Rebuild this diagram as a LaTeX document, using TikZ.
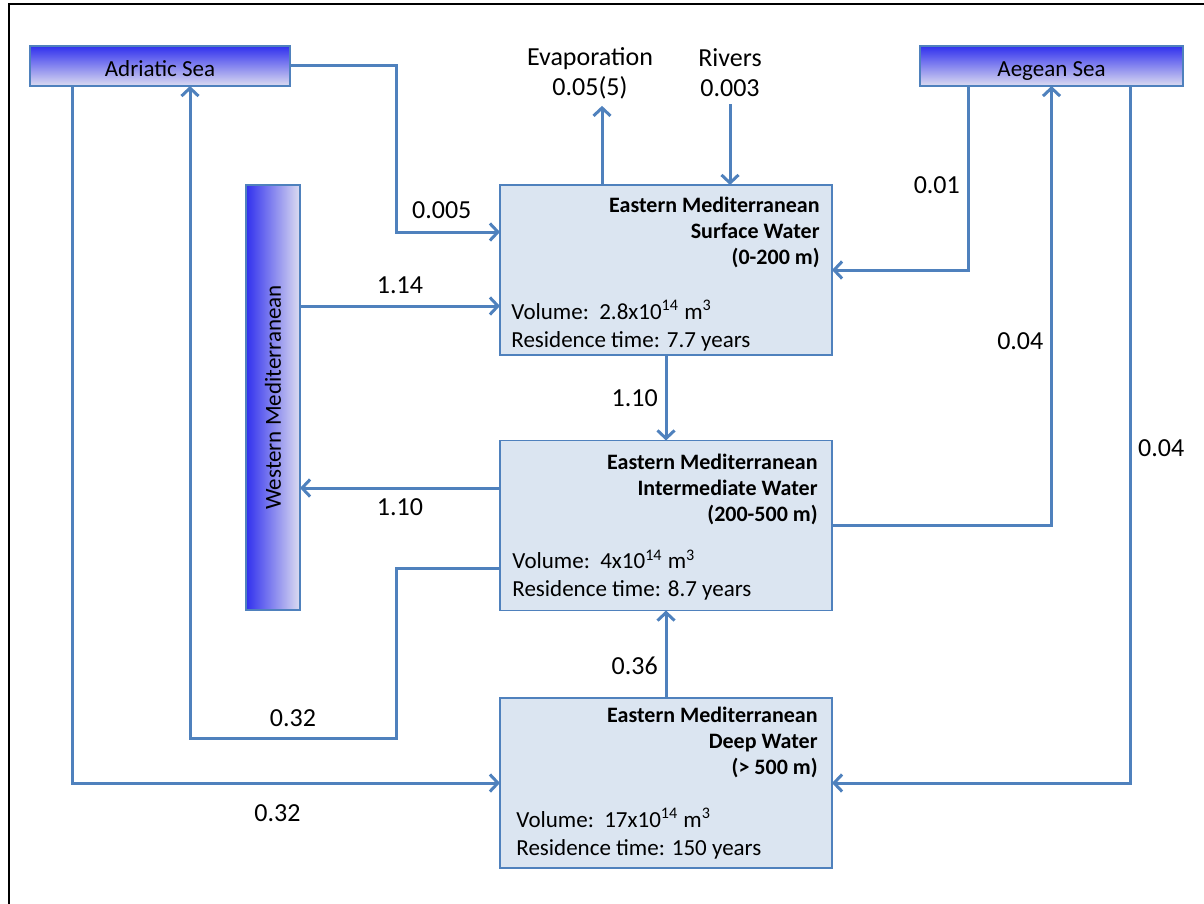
\documentclass[tikz,border=0pt]{standalone}
\usepackage{fontspec}
\usepackage{graphicx}
\setmainfont{Carlito}
\usetikzlibrary{arrows.meta,calc,positioning}
\definecolor{medLine}{HTML}{4F81BD}
\definecolor{medFill}{HTML}{DBE5F1}
\definecolor{medSea}{HTML}{3030EE}
\definecolor{medSeaLight}{HTML}{DCDCF0}

\begin{document}
\begin{tikzpicture}[x=0.5pt, y=-0.5pt,
    every node/.style={font=\fontsize{13}{15}\selectfont, text=black},
    flow/.style={line width=1.5pt, medLine, -{Straight Barb[length=4pt,width=8.5pt]}},
    layer/.style={draw=medLine, line width=0.75pt, fill=medFill, minimum width=166pt, minimum height=85pt, inner sep=0pt, outer sep=0pt},
    sea/.style={draw=medLine, line width=0.75pt, inner sep=0pt, outer sep=0pt, font=\fontsize{11.5}{13}\selectfont},
    seaband/.style={sea, top color=medSea, bottom color=medSeaLight, minimum height=20pt, text height=10.5pt, text depth=0pt},
    title/.style={anchor=north east, align=right, inner sep=0pt, font=\bfseries\fontsize{11}{13}\selectfont},
    info/.style={anchor=south west, align=left, inner sep=0pt, font=\fontsize{11.5}{14}\selectfont}]
  \useasboundingbox (0,0) rectangle (1204,904);
  \draw[line width=1.2pt] (9,904) -- (9,4) -- (1204,4);

  \node[seaband, minimum width=130pt] (adriatic) at (160,66) {Adriatic Sea};
  \node[seaband, minimum width=131.5pt] (aegean) at (1051.5,66) {Aegean Sea};
  \node[sea, left color=medSea, right color=medSeaLight, minimum width=27pt, minimum height=212.5pt] (westmed) at (273,397.5) {\rotatebox{90}{Western Mediterranean}};

  \node[layer] (surf) at (666,270) {};
  \node[title] (surf-title) at ([xshift=-6pt,yshift=-6pt]surf.north east) {Eastern Mediterranean\\Surface Water\\(0-200 m)};
  \node[info] (surf-info) at ([xshift=5.5pt,yshift=1.8pt]surf.south west) {Volume:\ \ 2.8x10\textsuperscript{14} m\textsuperscript{3}\\Residence time: 7.7 years};

  \node[layer] (inter) at (666,525.5) {};
  \node[title] (inter-title) at ([xshift=-7pt,yshift=-6.5pt]inter.north east) {Eastern Mediterranean\\Intermediate Water\\(200-500 m)};
  \node[info] (inter-info) at ([xshift=6pt,yshift=4.8pt]inter.south west) {Volume:\ \ 4x10\textsuperscript{14} m\textsuperscript{3}\\Residence time: 8.7 years};

  \node[layer] (deep) at (666,783) {};
  \node[title] (deep-title) at ([xshift=-7pt,yshift=-4.5pt]deep.north east) {Eastern Mediterranean\\Deep Water\\(> 500 m)};
  \node[info] (deep-info) at ([xshift=8pt,yshift=4.3pt]deep.south west) {Volume:\ \ 17x10\textsuperscript{14} m\textsuperscript{3}\\Residence time: 150 years};

  \node[align=center] (evap) at (590,73) {Evaporation\\0.05(5)};
  \node[align=center] (rivers) at (730,73) {Rivers\\0.003};

  \draw[flow] ([xshift=-32pt]surf.north) -- ([xshift=-32pt]surf.north |- evap.south);
  \draw[flow] (rivers.south) -- (rivers.south |- surf.north);
  \draw[flow] (adriatic.east) -- ++(106,0) |- ([yshift=19pt]surf.west) node[pos=0.72, above=2.5pt] {0.005};
  \draw[flow] ([yshift=-18pt]surf.west -| westmed.east) -- ([yshift=-18pt]surf.west) node[midway, above=2pt] {1.14};
  \draw[flow] ([xshift=-41.75pt]aegean.south) |- (surf.east) node[pos=0.27, left] {0.01};
  \draw[flow] (surf.south) -- (inter.north) node[midway, left] {1.10};
  \draw[flow] ([yshift=18.75pt]inter.west) -- ([yshift=18.75pt]inter.west -| westmed.east) node[midway, below=1pt] {1.10};
  \draw[flow] ([yshift=-21.25pt]inter.west) -- ++(-104,0) -- ++(0,170) -| ([xshift=15pt]adriatic.south) node[pos=0.25, above=1.5pt] {0.32};
  \draw[flow] (inter.east) -| (aegean.south) node[pos=0.71, left] {0.04};
  \draw[flow] ([xshift=-44pt]adriatic.south) |- (deep.west) node[pos=0.74, below=6.5pt] {0.32};
  \draw[flow] ([xshift=39.25pt]aegean.south) |- (deep.east) node[pos=0.26, right] {0.04};
  \draw[flow] (deep.north) -- (inter.south) node[pos=0.37, left] {0.36};
\end{tikzpicture}
\end{document}
